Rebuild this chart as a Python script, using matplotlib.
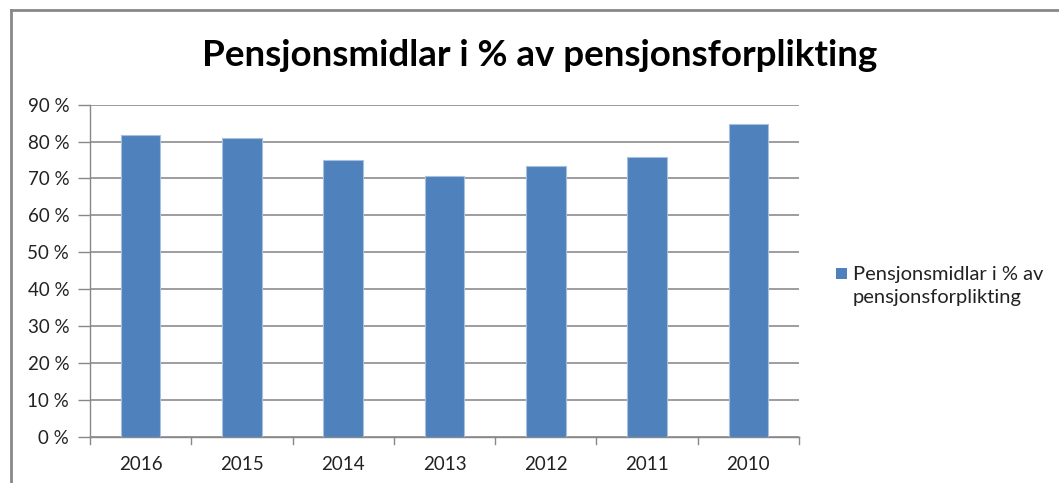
import matplotlib
matplotlib.use('Agg')
import matplotlib.pyplot as plt
from matplotlib.patches import Rectangle
from matplotlib.lines import Line2D

years = ['2016', '2015', '2014', '2013', '2012', '2011', '2010']
values = [81.7, 81.0, 75.0, 70.6, 73.5, 75.9, 84.9]
yticks = [0, 10, 20, 30, 40, 50, 60, 70, 80, 90]
title = 'Pensjonsmidlar i % av pensjonsforplikting'
legend_label = 'Pensjonsmidlar i % av\npensjonsforplikting'

plt.rcParams['font.family'] = ['Lato', 'DejaVu Sans']

fig = plt.figure(figsize=(10.59, 4.83), dpi=100, facecolor='white')
ax = fig.add_axes([0.085, 0.0959, 0.6695, 0.6873])

bar_color = '#4F81BD'
bars = ax.bar(range(len(years)), values, width=0.39, color=bar_color,
              edgecolor='#A7C0DE', linewidth=0.8, zorder=3)

ax.set_xlim(-0.5, len(years) - 0.5)
ax.set_ylim(0, 90)
ax.set_yticks(yticks)
ax.set_yticklabels([f'{v} %' for v in yticks], fontsize=13.5, color='#222222')
ax.set_xticks(range(len(years)))
ax.set_xticklabels(years, fontsize=13.5, color='#222222')
ax.tick_params(axis='x', length=0, pad=14)
ax.tick_params(axis='y', length=9, color='#888888', width=1, pad=6)

# tick marks between categories on x axis
for i in range(len(years) + 1):
    ax.plot([i - 0.5, i - 0.5], [0, -1.9], color='#888888', lw=1,
            clip_on=False, zorder=4)

ax.grid(axis='y', color='#8C8C8C', linewidth=1.2, zorder=0)
for side in ['top', 'right']:
    ax.spines[side].set_visible(False)
ax.spines['left'].set_color('#888888')
ax.spines['bottom'].set_color('#888888')
ax.spines['left'].set_linewidth(1)
ax.spines['bottom'].set_linewidth(1)

fig.text(0.51, 0.885, title, ha='center', va='center', fontsize=26.5,
         fontweight='bold', color='black')

# legend
fig.patches.append(Rectangle((836 / 1059, 1 - 279 / 483), 11 / 1059, 11 / 483,
                             transform=fig.transFigure, facecolor=bar_color,
                             edgecolor='none'))
fig.text(853 / 1059, 1 - 286 / 483, legend_label, ha='left', va='center',
         fontsize=14.5, color='#222222', linespacing=1.4)

# outer frame (cropped screenshot border)
fig.lines.append(Line2D([11 / 1059, 11 / 1059], [0, 1 - 10 / 483],
                        transform=fig.transFigure, color='#888888', lw=2))
fig.lines.append(Line2D([11 / 1059, 1], [1 - 10 / 483, 1 - 10 / 483],
                        transform=fig.transFigure, color='#888888', lw=2))

fig.savefig('out.png', dpi=100, facecolor='white')
